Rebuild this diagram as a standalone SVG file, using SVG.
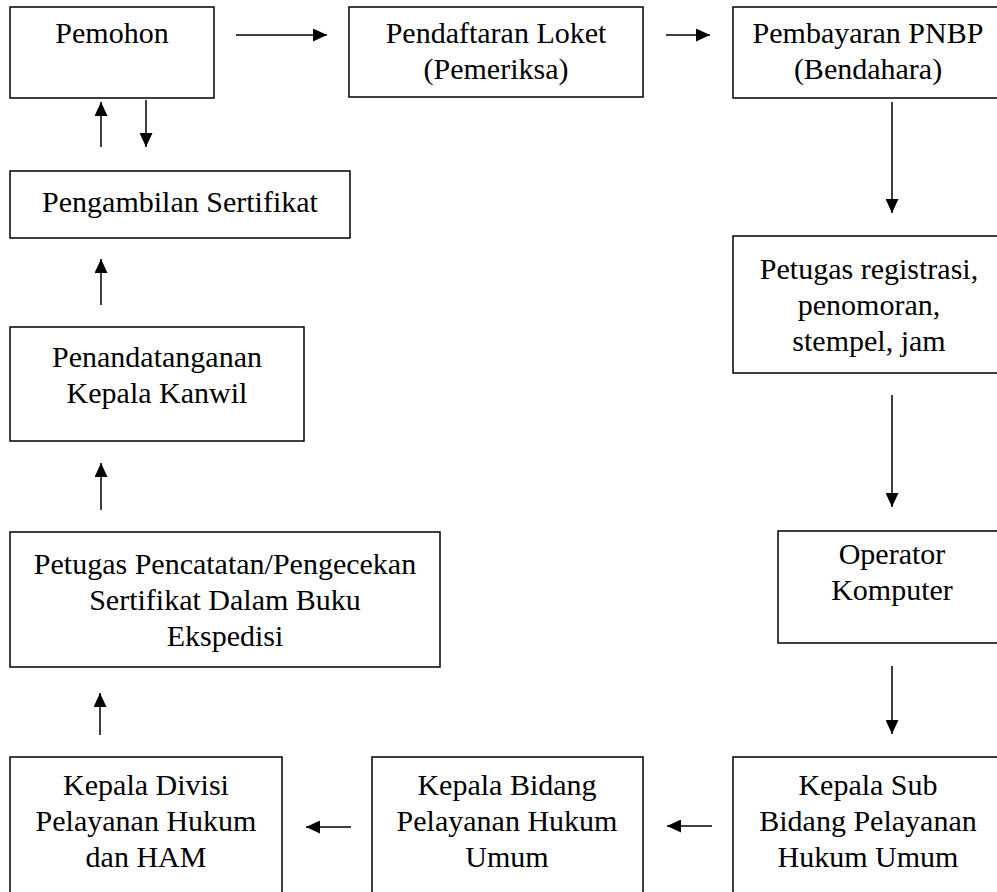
<svg xmlns="http://www.w3.org/2000/svg" width="997" height="892" viewBox="0 0 997 892">
<style>
.box{fill:#fff;stroke:#000;stroke-width:1.5}
.t{font-family:"Liberation Serif","Times New Roman",serif;font-size:30px;fill:#000;text-anchor:middle}
.c{stroke:#000;stroke-width:1.5;fill:none;marker-end:url(#ah)}
</style>
<defs>
<marker id="ah" markerUnits="userSpaceOnUse" markerWidth="14" markerHeight="13" refX="14" refY="6.5" orient="auto">
<path d="M0,0 L14,6.5 L0,13 z" fill="#000"/>
</marker>
</defs>
<rect width="997" height="892" fill="#fff"/>
<g id="pemohon"><rect class="box" x="10" y="7" width="204" height="91"/><text class="t" x="112" y="43">Pemohon</text></g>
<g id="pendaftaran"><rect class="box" x="349" y="7" width="294" height="90"/><text class="t" x="496" y="43">Pendaftaran Loket</text><text class="t" x="496" y="79">(Pemeriksa)</text></g>
<g id="pembayaran"><rect class="box" x="733" y="7" width="280" height="91"/><text class="t" x="868" y="43">Pembayaran PNBP</text><text class="t" x="868" y="79">(Bendahara)</text></g>
<g id="registrasi"><rect class="box" x="733" y="236" width="280" height="137"/><text class="t" x="869" y="279">Petugas registrasi,</text><text class="t" x="869" y="315">penomoran,</text><text class="t" x="869" y="351">stempel, jam</text></g>
<g id="operator"><rect class="box" x="778" y="531" width="240" height="112"/><text class="t" x="892" y="564">Operator</text><text class="t" x="892" y="600">Komputer</text></g>
<g id="kasubbid"><rect class="box" x="733" y="757" width="280" height="150"/><text class="t" x="868" y="795">Kepala Sub</text><text class="t" x="868" y="831">Bidang Pelayanan</text><text class="t" x="868" y="867">Hukum Umum</text></g>
<g id="kabid"><rect class="box" x="372" y="757" width="271" height="150"/><text class="t" x="507" y="795">Kepala Bidang</text><text class="t" x="507" y="831">Pelayanan Hukum</text><text class="t" x="507" y="867">Umum</text></g>
<g id="kadiv"><rect class="box" x="10" y="757" width="272" height="150"/><text class="t" x="146" y="795">Kepala Divisi</text><text class="t" x="146" y="831">Pelayanan Hukum</text><text class="t" x="146" y="867">dan HAM</text></g>
<g id="pencatatan"><rect class="box" x="10" y="532" width="430" height="135"/><text class="t" x="225" y="574">Petugas Pencatatan/Pengecekan</text><text class="t" x="225" y="610">Sertifikat Dalam Buku</text><text class="t" x="225" y="646">Ekspedisi</text></g>
<g id="penandatanganan"><rect class="box" x="10" y="327" width="294" height="114"/><text class="t" x="157" y="367">Penandatanganan</text><text class="t" x="157" y="403">Kepala Kanwil</text></g>
<g id="pengambilan"><rect class="box" x="10" y="171" width="340" height="67"/><text class="t" x="180" y="212">Pengambilan Sertifikat</text></g>
<g id="connectors">
<line class="c" x1="236" y1="35" x2="327" y2="35"/>
<line class="c" x1="666" y1="35" x2="710" y2="35"/>
<line class="c" x1="892" y1="102" x2="892" y2="213"/>
<line class="c" x1="892" y1="395" x2="892" y2="507"/>
<line class="c" x1="892" y1="666" x2="892" y2="734"/>
<line class="c" x1="712" y1="826" x2="667" y2="826"/>
<line class="c" x1="351" y1="827" x2="306" y2="827"/>
<line class="c" x1="100" y1="735" x2="100" y2="693"/>
<line class="c" x1="101" y1="510" x2="101" y2="463"/>
<line class="c" x1="101" y1="305" x2="101" y2="259"/>
<line class="c" x1="101" y1="147" x2="101" y2="102"/>
<line class="c" x1="146" y1="100" x2="146" y2="147"/>
</g>
</svg>
